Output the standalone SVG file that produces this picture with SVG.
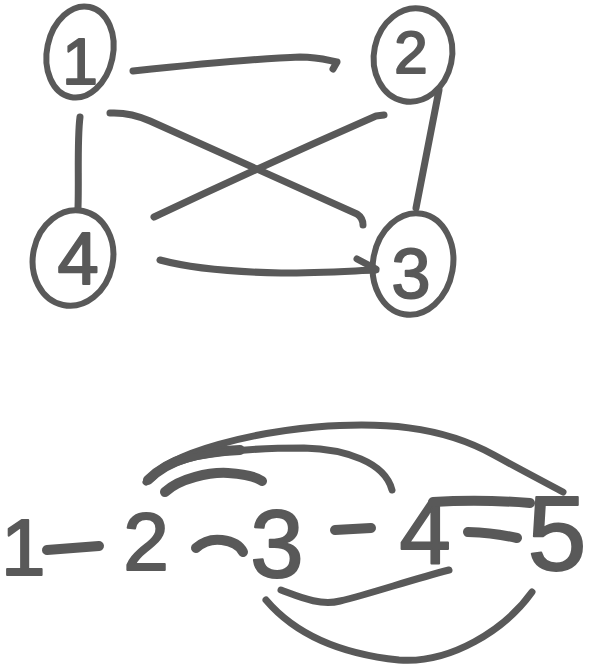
<svg xmlns="http://www.w3.org/2000/svg" width="593" height="669" viewBox="0 0 593 669">
<style>
.n{fill:none;stroke:#595959;stroke-width:6;stroke-linecap:round}
.e{fill:none;stroke:#595959;stroke-width:7;stroke-linecap:round;stroke-linejoin:round}
.t{fill:none;stroke:#595959;stroke-width:10;stroke-linecap:round;stroke-linejoin:round}
.d{font-family:"Liberation Sans",Arial,sans-serif;fill:#595959;stroke:#595959;stroke-width:2;stroke-linejoin:round;text-anchor:middle}
</style>
<rect width="593" height="669" fill="#ffffff"/>
<g id="node-1"><ellipse class="n" cx="80" cy="52" rx="33" ry="46" transform="rotate(12 80 52)"/><text class="d" x="80" y="84" font-size="64">1</text></g>
<g id="node-2"><ellipse class="n" cx="413" cy="55" rx="39" ry="47" transform="rotate(12 413 55)"/><text class="d" x="411" y="73" font-size="60">2</text></g>
<g id="node-4"><ellipse class="n" cx="73" cy="258" rx="40" ry="48" transform="rotate(12 73 258)"/><text class="d" x="78" y="284" font-size="74">4</text></g>
<g id="node-3"><ellipse class="n" cx="413" cy="264" rx="40" ry="51" transform="rotate(10 413 264)"/><text class="d" x="411" y="298" font-size="70">3</text></g>
<g id="seq-1"><text class="d" x="1" y="575" font-size="80" style="text-anchor:start">1</text></g>
<g id="seq-2"><text class="d" x="146" y="570" font-size="82">2</text></g>
<g id="seq-3"><text class="d" x="277" y="577" font-size="96">3</text></g>
<g id="seq-4"><text class="d" x="425" y="563" font-size="92">4</text></g>
<g id="seq-5"><text class="d" x="557" y="570" font-size="106">5</text></g>
<g id="connectors">
<path class="e" d="M133 71 C 200 64 270 58 300 57 C 320 57 330 61 337 62 L 333 69"/>
<path class="e" d="M80 117 C 77 140 79 180 78 208"/>
<path class="e" d="M110 113 Q 130 112 150 121 L 357 214 Q 363 218 363 225"/>
<path class="e" d="M384 115 L 376 116 Q 262 166 154 217"/>
<path class="e" d="M439 90 L 416 208"/>
<path class="e" d="M160 260 C 190 268 230 272 281 273 C 320 273 350 271 376 270 M357 259 L 376 269"/>
<path class="t" d="M47 550 L 99 546"/>
<path class="t" d="M196 548 Q 207 538 222 540 Q 238 542 243 552"/>
<path class="t" d="M335 530 L 371 528"/>
<path class="t" d="M468 532 Q 495 533 517 538"/>
<path class="t" d="M433 502 Q 480 499 530 503"/>
<path class="e" d="M146 482 C 170 450 260 432 316 427 C 380 422 440 425 494 455 C 525 472 550 485 563 492"/>
<path class="t" d="M148 480 C 170 458 200 452 240 450"/>
<path class="e" d="M152 478 C 172 455 230 448 304 448 C 345 449 385 462 392 490"/>
<path class="t" d="M165 492 C 180 478 210 472 228 473 C 245 474 255 476 262 481"/>
<path class="e" d="M281 590 C 300 597 320 606 340 601 C 370 594 410 580 449 570"/>
<path class="e" d="M266 600 C 300 640 350 655 399 660 C 450 664 505 630 532 592"/>
</g>
</svg>
